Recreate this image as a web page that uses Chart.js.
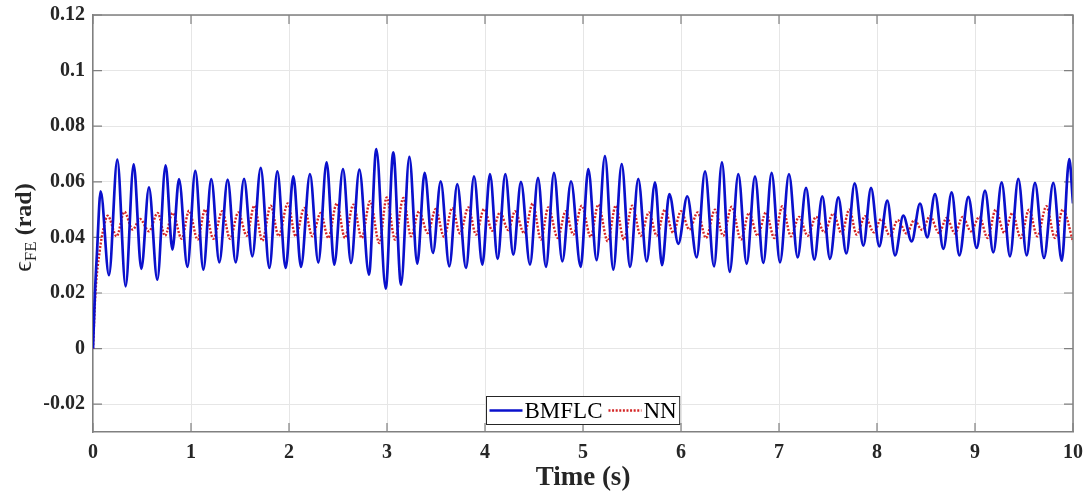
<!DOCTYPE html>
<html>
<head>
<meta charset="utf-8">
<script src="https://cdn.jsdelivr.net/npm/chart.js@4.4.0/dist/chart.umd.min.js"></script>
<style>
html, body { margin: 0; padding: 0; background: #fff; }
#wrap { width: 1088px; height: 494px; }
</style>
</head>
<body>
<div id="wrap"><canvas id="grafica" width="1088" height="494"></canvas></div>
<script>
// ==========================================
// DATOS (picos y valles)
// ==========================================
const tBMFLC = [0, 0.02, 0.04, 0.078,
  0.163, 0.248, 0.333, 0.415, 0.493, 0.571, 0.656, 0.741, 0.81, 0.878,
  0.963, 1.044, 1.126, 1.207, 1.289, 1.374, 1.456, 1.541, 1.626, 1.711,
  1.8, 1.881, 1.966, 2.044, 2.122, 2.214, 2.299, 2.384, 2.462, 2.551,
  2.633, 2.718, 2.816, 2.891, 2.987, 3.064, 3.143, 3.228, 3.309, 3.384,
  3.469, 3.548, 3.636, 3.717, 3.806, 3.888, 3.973, 4.051, 4.129, 4.207,
  4.289, 4.367, 4.459, 4.541, 4.622, 4.704, 4.789, 4.878, 4.976, 5.054,
  5.139, 5.224, 5.309, 5.395, 5.48, 5.564, 5.65, 5.735, 5.806, 5.881,
  5.973, 6.064, 6.16, 6.245, 6.337, 6.418, 6.497, 6.585, 6.67, 6.755,
  6.84, 6.925, 7.01, 7.102, 7.19, 7.276, 7.36, 7.442, 7.52, 7.605,
  7.687, 7.772, 7.861, 7.939, 8.023, 8.105, 8.184, 8.268, 8.354, 8.439,
  8.513, 8.592, 8.677, 8.762, 8.84, 8.932, 9.017, 9.102, 9.187, 9.272,
  9.357, 9.442, 9.527, 9.612, 9.704, 9.799, 9.885, 9.962, 10];

const yBMFLC = [0, 0.02, 0.034, 0.0566,
  0.0264, 0.068, 0.0224, 0.0663, 0.0287, 0.058, 0.0248, 0.0659, 0.0356, 0.061,
  0.0294, 0.0639, 0.0284, 0.061, 0.031, 0.0608, 0.031, 0.0611, 0.0332, 0.065,
  0.029, 0.0638, 0.029, 0.062, 0.0294, 0.0628, 0.031, 0.067, 0.0302, 0.0646,
  0.0308, 0.0644, 0.0266, 0.0718, 0.0216, 0.0706, 0.023, 0.069, 0.0306, 0.0632,
  0.0344, 0.0602, 0.0296, 0.0592, 0.029, 0.062, 0.0302, 0.0628, 0.0323, 0.0628,
  0.0338, 0.06, 0.0302, 0.0614, 0.0294, 0.0632, 0.0314, 0.0602, 0.0294, 0.0646,
  0.0318, 0.0692, 0.0284, 0.0664, 0.0294, 0.0611, 0.0314, 0.0598, 0.03, 0.0556,
  0.0377, 0.0548, 0.0328, 0.0638, 0.0296, 0.067, 0.0276, 0.0628, 0.0305, 0.062,
  0.0308, 0.0632, 0.031, 0.0628, 0.0328, 0.0578, 0.032, 0.0548, 0.0323, 0.0544,
  0.0342, 0.0594, 0.037, 0.0578, 0.0368, 0.0532, 0.0335, 0.0478, 0.0386, 0.0522,
  0.04, 0.0556, 0.0359, 0.0562, 0.0335, 0.0546, 0.0362, 0.0568, 0.0346, 0.0598,
  0.0332, 0.0611, 0.0335, 0.0596, 0.0326, 0.0596, 0.0316, 0.0682, 0.0522];

const tNN = [0, 0.025, 0.07, 0.105, 0.15,
  0.241, 0.32, 0.405, 0.48, 0.571, 0.66, 0.735, 0.813, 0.905, 0.98,
  1.068, 1.143, 1.228, 1.319, 1.398, 1.483, 1.568, 1.646, 1.728, 1.813,
  1.895, 1.987, 2.068, 2.156, 2.238, 2.323, 2.401, 2.487, 2.571, 2.656,
  2.742, 2.827, 2.922, 2.997, 3.082, 3.166, 3.245, 3.327, 3.415, 3.497,
  3.582, 3.666, 3.745, 3.83, 3.908, 3.99, 4.075, 4.153, 4.238, 4.306,
  4.401, 4.487, 4.571, 4.646, 4.742, 4.823, 4.901, 4.987, 5.078, 5.156,
  5.252, 5.334, 5.418, 5.503, 5.589, 5.673, 5.752, 5.835, 5.92, 6.0,
  6.085, 6.17, 6.255, 6.347, 6.43, 6.517, 6.612, 6.694, 6.782, 6.867,
  6.952, 7.034, 7.122, 7.204, 7.293, 7.378, 7.462, 7.554, 7.64, 7.717,
  7.793, 7.878, 7.969, 8.041, 8.133, 8.211, 8.303, 8.38, 8.462, 8.541,
  8.633, 8.711, 8.796, 8.874, 8.959, 9.044, 9.129, 9.211, 9.299, 9.381,
  9.467, 9.551, 9.636, 9.728, 9.816, 9.895, 10];

const yNN = [0, 0.02, 0.0356, 0.0428, 0.0478,
  0.0404, 0.0492, 0.0428, 0.0466, 0.0422, 0.0488, 0.0406, 0.0488, 0.0395, 0.0496,
  0.0392, 0.05, 0.0395, 0.0494, 0.0395, 0.049, 0.0406, 0.0514, 0.0388, 0.0514,
  0.0405, 0.0522, 0.0404, 0.0506, 0.0404, 0.0488, 0.0398, 0.0522, 0.0398, 0.0518,
  0.0398, 0.053, 0.038, 0.0544, 0.0392, 0.0542, 0.0404, 0.0494, 0.0416, 0.0502,
  0.0402, 0.0506, 0.0414, 0.0508, 0.041, 0.0502, 0.0424, 0.049, 0.0426, 0.0494,
  0.0414, 0.0522, 0.0392, 0.0508, 0.0398, 0.0494, 0.041, 0.0514, 0.0402, 0.0518,
  0.0386, 0.0514, 0.0392, 0.0514, 0.0406, 0.049, 0.0406, 0.05, 0.0416, 0.0494,
  0.0428, 0.049, 0.0398, 0.05, 0.0406, 0.051, 0.0392, 0.0488, 0.0406, 0.049,
  0.0398, 0.0512, 0.0404, 0.0474, 0.0406, 0.0474, 0.0418, 0.0486, 0.0414, 0.05,
  0.041, 0.0476, 0.0418, 0.0466, 0.0406, 0.0462, 0.0414, 0.0462, 0.0426, 0.0476,
  0.0416, 0.047, 0.0414, 0.0474, 0.0422, 0.0474, 0.0398, 0.05, 0.0416, 0.0488,
  0.0398, 0.05, 0.0404, 0.0512, 0.0398, 0.05, 0.0386];

const xTicks = [0, 1, 2, 3, 4, 5, 6, 7, 8, 9, 10];
const yTicks = [-0.02, 0, 0.02, 0.04, 0.06, 0.08, 0.1, 0.12];
const yTickLabels = ['-0.02', '0', '0.02', '0.04', '0.06', '0.08', '0.1', '0.12'];

const SERIF = "'Liberation Serif', 'Times New Roman', serif";
const AXIS_COLOR = '#808080';

// ==========================================
// PLUGINS: marco, ticks interiores, título Y, leyenda
// ==========================================
const marcoPlugin = {
    id: 'marco',
    beforeDatasetsDraw(chart) {
        const { ctx, chartArea: a, scales } = chart;
        ctx.save();
        ctx.strokeStyle = AXIS_COLOR;
        ctx.lineWidth = 1.2;
        const L = 9;
        ctx.beginPath();
        xTicks.forEach(v => {
            const px = scales.x.getPixelForValue(v);
            ctx.moveTo(px, a.bottom); ctx.lineTo(px, a.bottom - L);
            ctx.moveTo(px, a.top); ctx.lineTo(px, a.top + L);
        });
        yTicks.forEach(v => {
            const py = scales.y.getPixelForValue(v);
            ctx.moveTo(a.left, py); ctx.lineTo(a.left + L, py);
            ctx.moveTo(a.right, py); ctx.lineTo(a.right - L, py);
        });
        ctx.stroke();
        ctx.restore();
    },
    afterDatasetsDraw(chart) {
        const { ctx, chartArea: a } = chart;
        ctx.save();
        ctx.strokeStyle = AXIS_COLOR;
        ctx.lineWidth = 1.5;
        ctx.beginPath();
        ctx.moveTo(a.left, a.top); ctx.lineTo(a.right, a.top); ctx.lineTo(a.right, a.bottom);
        ctx.stroke();
        ctx.restore();
    }
};

const tituloYPlugin = {
    id: 'tituloY',
    afterDraw(chart) {
        const { ctx, chartArea: a } = chart;
        const partes = [
            { t: '\u03f5', f: '26px ' + SERIF, dy: 0 },
            { t: 'FE', f: '17px ' + SERIF, dy: 5 },
            { t: ' (rad)', f: 'bold 24px ' + SERIF, dy: 0 }
        ];
        ctx.save();
        let total = 0;
        partes.forEach(p => { ctx.font = p.f; p.w = ctx.measureText(p.t).width; total += p.w; });
        ctx.translate(23, (a.top + a.bottom) / 2 + 4);
        ctx.rotate(-Math.PI / 2);
        ctx.fillStyle = '#262626';
        ctx.textBaseline = 'alphabetic';
        let x = -total / 2;
        partes.forEach(p => {
            ctx.font = p.f;
            ctx.fillText(p.t, x, 8 + p.dy);
            x += p.w;
        });
        ctx.restore();
    }
};

const leyendaPlugin = {
    id: 'leyenda',
    afterDraw(chart) {
        const { ctx, chartArea: a } = chart;
        const ds = chart.data.datasets;
        ctx.save();
        ctx.font = '23px ' + SERIF;
        const muestra = 33, gap = 2, sep = 6, pad = 3;
        const w0 = ctx.measureText(ds[0].label).width;
        const w1 = ctx.measureText(ds[1].label).width;
        const W = pad + muestra + gap + w0 + sep + muestra + gap + w1 + pad;
        const H = 28;
        const x0 = Math.round((a.left + a.right) / 2 - W / 2) + 0.5;
        const y0 = a.bottom - 8 - H + 0.5;
        ctx.fillStyle = '#fff';
        ctx.fillRect(x0, y0, W, H);
        ctx.strokeStyle = '#262626';
        ctx.lineWidth = 1;
        ctx.strokeRect(x0, y0, W, H);
        const cy = y0 + H / 2;
        let x = x0 + pad;
        // BMFLC
        ctx.strokeStyle = ds[0].borderColor;
        ctx.lineWidth = ds[0].borderWidth;
        ctx.setLineDash([]);
        ctx.beginPath(); ctx.moveTo(x, cy); ctx.lineTo(x + muestra, cy); ctx.stroke();
        x += muestra + gap;
        ctx.fillStyle = '#000';
        ctx.textBaseline = 'middle';
        ctx.fillText(ds[0].label, x, cy + 1);
        x += w0 + sep;
        // NN
        ctx.strokeStyle = ds[1].borderColor;
        ctx.lineWidth = ds[1].borderWidth;
        ctx.setLineDash(ds[1].borderDash);
        ctx.beginPath(); ctx.moveTo(x, cy); ctx.lineTo(x + muestra, cy); ctx.stroke();
        ctx.setLineDash([]);
        x += muestra + gap;
        ctx.fillText(ds[1].label, x, cy + 1);
        ctx.restore();
    }
};

// ==========================================
// GRÁFICA
// ==========================================
const puntos = (ts, ys) => ts.map((t, i) => ({ x: t, y: ys[i] }));

const ctxG = document.getElementById('grafica').getContext('2d');
const grafica = new Chart(ctxG, {
    type: 'line',
    data: {
        datasets: [{
            label: 'BMFLC',
            data: puntos(tBMFLC, yBMFLC),
            borderColor: '#0a10cc',
            borderWidth: 2.7,
            pointRadius: 0,
            cubicInterpolationMode: 'monotone',
            fill: false
        }, {
            label: 'NN',
            data: puntos(tNN, yNN),
            borderColor: '#d42525',
            borderWidth: 2.4,
            borderDash: [2, 1.6],
            pointRadius: 0,
            cubicInterpolationMode: 'monotone',
            fill: false
        }]
    },
    options: {
        responsive: false,
        animation: false,
        devicePixelRatio: 1,
        layout: { padding: { top: 15, right: 15, left: 0, bottom: 0 } },
        plugins: {
            legend: { display: false },
            tooltip: { enabled: false }
        },
        scales: {
            x: {
                type: 'linear',
                min: 0,
                max: 10,
                afterBuildTicks: s => { s.ticks = xTicks.map(v => ({ value: v })); },
                afterFit: s => { s.height = 62; s.paddingLeft = 0; s.paddingRight = 0; },
                ticks: {
                    color: '#262626',
                    padding: 9,
                    font: { family: SERIF, size: 20, weight: 'bold' },
                    callback: v => String(v)
                },
                grid: { color: '#e6e6e6', lineWidth: 1, drawTicks: false },
                border: { color: AXIS_COLOR, width: 1.5 },
                title: {
                    display: true,
                    text: 'Time (s)',
                    color: '#262626',
                    font: { family: SERIF, size: 27, weight: 'bold' },
                    padding: { top: 0, bottom: 0 }
                }
            },
            y: {
                min: -0.03,
                max: 0.12,
                afterBuildTicks: s => { s.ticks = yTicks.map(v => ({ value: v })); },
                afterFit: s => { s.width = 93; s.paddingTop = 0; s.paddingBottom = 0; },
                ticks: {
                    color: '#262626',
                    padding: 8,
                    font: { family: SERIF, size: 20, weight: 'bold' },
                    callback: (v) => {
                        const i = yTicks.findIndex(t => Math.abs(t - v) < 1e-9);
                        return i >= 0 ? yTickLabels[i] : '';
                    }
                },
                grid: { color: '#e6e6e6', lineWidth: 1, drawTicks: false },
                border: { color: AXIS_COLOR, width: 1.5 }
            }
        }
    },
    plugins: [marcoPlugin, tituloYPlugin, leyendaPlugin]
});
</script>
</body>
</html>
